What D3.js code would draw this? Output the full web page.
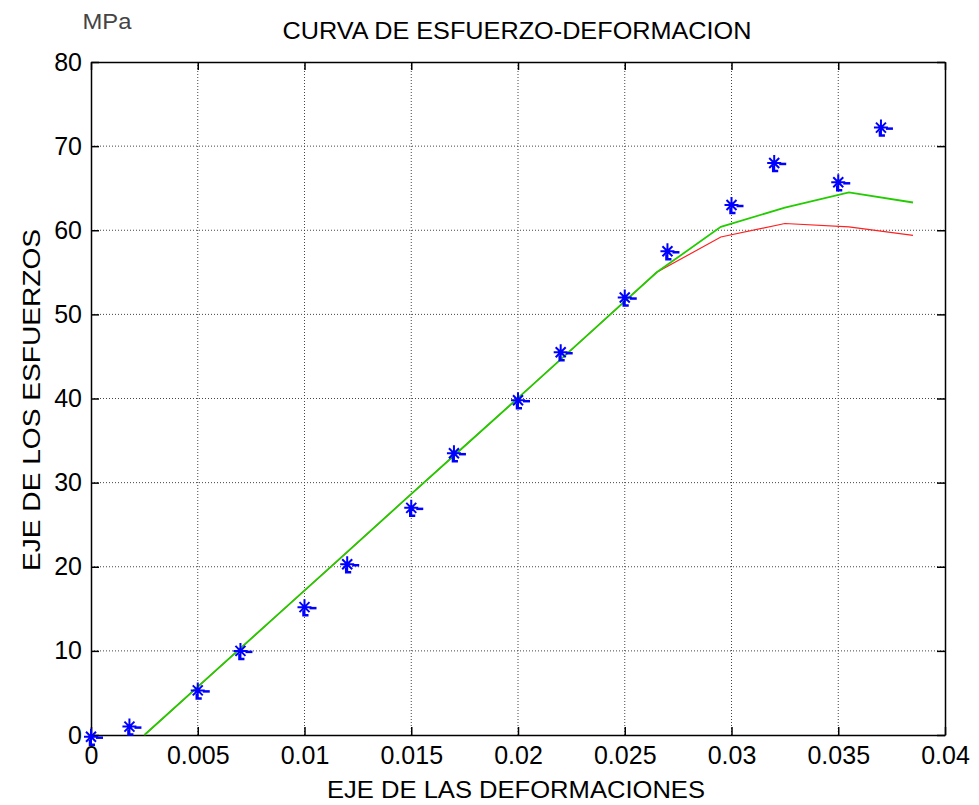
<!DOCTYPE html>
<html><head><meta charset="utf-8">
<script src="https://cdn.jsdelivr.net/npm/d3@7"></script>
<style>body{margin:0;background:#fff}svg{display:block}text{font-family:"Liberation Sans",Arial,sans-serif}</style>
</head><body><svg id="c" width="979" height="805"></svg>
<script>
const xTicks = [0,0.005,0.01,0.015,0.02,0.025,0.03,0.035,0.04];
const xTickLabels = ["0","0.005","0.01","0.015","0.02","0.025","0.03","0.035","0.04"];
const yTicks = [0,10,20,30,40,50,60,70,80];
const strainData = [0,0.0018,0.005,0.007,0.01,0.012,0.015,0.017,0.02,0.022,0.025,0.027,0.03,0.032,0.035,0.037];
const stressData = [-0.2,1,5.3,10,15.2,20.3,27,33.5,39.8,45.5,52,57.5,63,68,65.7,72.2];
const modelStrain = [0.0025,0.0055,0.0085,0.0115,0.0145,0.0175,0.0205,0.0235,0.0265,0.0295,0.0325,0.0355,0.0385];
const greenStress = [0,6.87,13.74,20.6,27.5,34.35,41.2,48.1,55.0,60.4,62.7,64.5,63.3];
const redStress = [0,6.87,13.74,20.6,27.5,34.35,41.2,48.1,55.0,59.2,60.8,60.4,59.4];

const svg = d3.select("#c");
const L=91,R=945,T=62,B=735;
const x = d3.scaleLinear().domain([0,0.04]).range([L,R]);
const y = d3.scaleLinear().domain([0,80]).range([B,T]);

// grid
const g = svg.append("g");
g.selectAll(".gx").data(xTicks.slice(1,-1)).join("line")
 .attr("x1",d=>x(d)).attr("x2",d=>x(d)).attr("y1",T).attr("y2",B)
 .attr("stroke","#444").attr("stroke-width",1).attr("stroke-dasharray","1,2");
g.selectAll(".gy").data(yTicks.slice(1,-1)).join("line")
 .attr("y1",d=>y(d)).attr("y2",d=>y(d)).attr("x1",L).attr("x2",R)
 .attr("stroke","#444").attr("stroke-width",1).attr("stroke-dasharray","1,2");

// axes with inward ticks on all sides
const fmtX = (d,i)=>xTickLabels[i];
svg.append("g").attr("transform",`translate(0,${B})`)
 .call(d3.axisBottom(x).tickValues(xTicks).tickFormat(fmtX).tickSizeInner(-8).tickSizeOuter(0).tickPadding(11))
 .call(a=>a.selectAll("text").attr("font-size",25).attr("fill","#000"));
svg.append("g").attr("transform",`translate(0,${T})`)
 .call(d3.axisTop(x).tickValues(xTicks).tickFormat("").tickSizeInner(-8).tickSizeOuter(0));
svg.append("g").attr("transform",`translate(${L},0)`)
 .call(d3.axisLeft(y).tickValues(yTicks).tickSizeInner(-8).tickSizeOuter(0).tickPadding(9))
 .call(a=>a.selectAll("text").attr("font-size",25).attr("fill","#000"));
svg.append("g").attr("transform",`translate(${R},0)`)
 .call(d3.axisRight(y).tickValues(yTicks).tickFormat("").tickSizeInner(-8).tickSizeOuter(0));
svg.selectAll(".domain").attr("stroke","#000").attr("stroke-width",1.5);
svg.selectAll(".tick line").attr("stroke","#000").attr("stroke-width",1.5);

// lines
const line = d3.line().x(d=>x(d[0])).y(d=>y(d[1]));
svg.append("path").datum(modelStrain.map((s,i)=>[s,redStress[i]])).attr("d",line)
 .attr("fill","none").attr("stroke","#ff2020").attr("stroke-width",1.2);
svg.append("path").datum(modelStrain.map((s,i)=>[s,greenStress[i]])).attr("d",line)
 .attr("fill","none").attr("stroke","#22cc00").attr("stroke-width",1.8);

// markers
const mk = svg.append("g").attr("stroke","#0000ff").attr("fill","none").attr("stroke-width",2);
strainData.forEach((s,i)=>{
  const cx=x(s), cy=y(stressData[i]);
  const m = mk.append("g").attr("transform",`translate(${cx},${cy})`);
  m.append("path").attr("d","M-7,0H7M0,-8V8M-5,-5L5,5M-5,5L5,-5");
  m.append("path").attr("d","M5,1H12").attr("stroke-width",2.5);
  m.append("path").attr("d","M-1,3V8H4").attr("stroke-width",2.5);
});

// texts
svg.append("text").attr("x",517).attr("y",39).attr("text-anchor","middle").attr("font-size",23)
 .attr("textLength",469).attr("lengthAdjust","spacingAndGlyphs").text("CURVA DE ESFUERZO-DEFORMACION");
svg.append("text").attr("x",107).attr("y",29).attr("text-anchor","middle").attr("font-size",22).attr("fill","#444")
 .attr("textLength",49).attr("lengthAdjust","spacingAndGlyphs").text("MPa");
svg.append("text").attr("x",516).attr("y",798).attr("text-anchor","middle").attr("font-size",24)
 .attr("textLength",378).attr("lengthAdjust","spacingAndGlyphs").text("EJE DE LAS DEFORMACIONES");
svg.append("text").attr("transform","translate(40,400) rotate(-90)").attr("text-anchor","middle").attr("font-size",24)
 .attr("textLength",342).attr("lengthAdjust","spacingAndGlyphs").text("EJE DE LOS ESFUERZOS");
</script></body></html>
